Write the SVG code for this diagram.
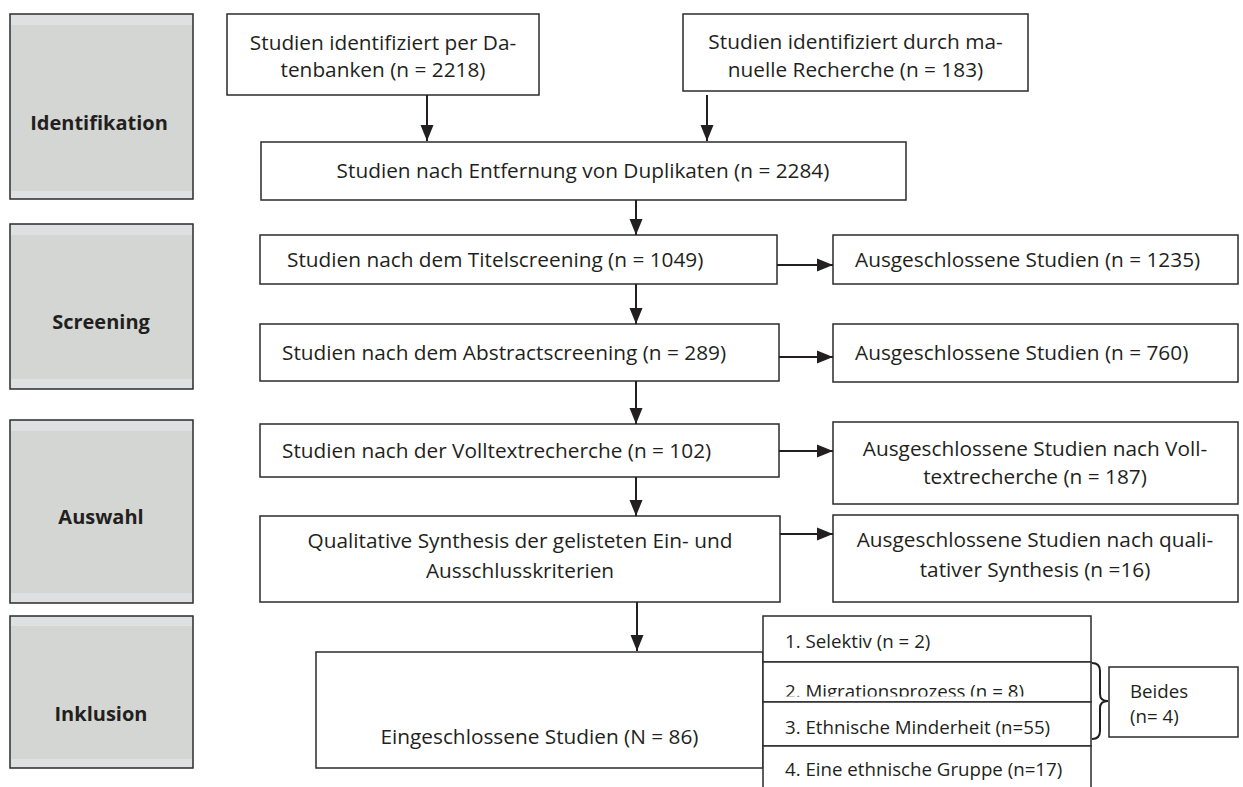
<svg xmlns="http://www.w3.org/2000/svg" width="1243" height="787" viewBox="0 0 1243 787">
<style>
  .stage-out { fill: #dfe0e2; stroke: #2b2b2b; stroke-width: 1.5; }
  .stage-in { fill: #d4d6d3; stroke: none; }
  .stage-txt { font-family: "Open Sans", "Noto Sans", sans-serif; font-weight: bold; font-size: 20px; fill: #231f20; text-anchor: middle; }
  .box { fill: #ffffff; stroke: #2b2b2b; stroke-width: 1.5; }
  .t { font-family: "Open Sans", "Noto Sans", sans-serif; font-size: 20.8px; fill: #231f20; }
  .s { font-family: "Open Sans", "Noto Sans", sans-serif; font-size: 18.7px; fill: #231f20; }
  .mid { text-anchor: middle; }
  .conn { stroke: #231f20; stroke-width: 2; fill: none; }
</style>
<defs>
  <marker id="arr" markerUnits="userSpaceOnUse" markerWidth="17" markerHeight="15" refX="16" refY="7.5" orient="auto">
    <path d="M0,1 L16,7.5 L0,14 Z" fill="#231f20"/>
  </marker>
  <clipPath id="clip2"><rect x="763" y="662" width="330" height="34.5"/></clipPath>
  <clipPath id="clip4"><rect x="763" y="746" width="330" height="36"/></clipPath>
</defs>

<g id="stage-identifikation">
  <rect class="stage-out" x="10" y="14" width="183" height="185"/>
  <rect class="stage-in" x="11" y="25" width="181" height="166"/>
  <text class="stage-txt" x="99" y="130">Identifikation</text>
</g>
<g id="stage-screening">
  <rect class="stage-out" x="10" y="224" width="183" height="165"/>
  <rect class="stage-in" x="11" y="235" width="181" height="144"/>
  <text class="stage-txt" x="101" y="329">Screening</text>
</g>
<g id="stage-auswahl">
  <rect class="stage-out" x="10" y="420" width="183" height="183"/>
  <rect class="stage-in" x="11" y="431" width="181" height="162"/>
  <text class="stage-txt" x="101" y="524">Auswahl</text>
</g>
<g id="stage-inklusion">
  <rect class="stage-out" x="10" y="616" width="183" height="152"/>
  <rect class="stage-in" x="11" y="626" width="181" height="133"/>
  <text class="stage-txt" x="101" y="721">Inklusion</text>
</g>

<g id="box-datenbanken">
  <rect class="box" x="227" y="14" width="312" height="81"/>
  <text class="t mid" x="383" y="50">Studien identifiziert per Da-</text>
  <text class="t mid" x="383" y="77">tenbanken (n = 2218)</text>
</g>
<g id="box-manuell">
  <rect class="box" x="683" y="14" width="345" height="77"/>
  <text class="t mid" x="855.5" y="49">Studien identifiziert durch ma-</text>
  <text class="t mid" x="855.5" y="77">nuelle Recherche (n = 183)</text>
</g>
<g id="box-duplikate">
  <rect class="box" x="261" y="142" width="645" height="58"/>
  <text class="t mid" x="583" y="178">Studien nach Entfernung von Duplikaten (n = 2284)</text>
</g>
<g id="box-titel">
  <rect class="box" x="260" y="235" width="517" height="49"/>
  <text class="t" x="287" y="267">Studien nach dem Titelscreening (n = 1049)</text>
</g>
<g id="box-abstract">
  <rect class="box" x="260" y="324" width="519" height="57"/>
  <text class="t" x="282" y="360">Studien nach dem Abstractscreening (n = 289)</text>
</g>
<g id="box-volltext">
  <rect class="box" x="260" y="424" width="519" height="53"/>
  <text class="t" x="282" y="458">Studien nach der Volltextrecherche (n = 102)</text>
</g>
<g id="box-qualitativ">
  <rect class="box" x="260" y="516" width="520" height="86"/>
  <text class="t mid" x="520" y="548">Qualitative Synthesis der gelisteten Ein- und</text>
  <text class="t mid" x="520" y="578">Ausschlusskriterien</text>
</g>
<g id="box-aus-1235">
  <rect class="box" x="833" y="235" width="405" height="49"/>
  <text class="t" x="855" y="267">Ausgeschlossene Studien (n = 1235)</text>
</g>
<g id="box-aus-760">
  <rect class="box" x="833" y="324" width="405" height="58"/>
  <text class="t" x="855" y="360">Ausgeschlossene Studien (n = 760)</text>
</g>
<g id="box-aus-187">
  <rect class="box" x="833" y="422" width="405" height="82"/>
  <text class="t mid" x="1035" y="456">Ausgeschlossene Studien nach Voll-</text>
  <text class="t mid" x="1035" y="484">textrecherche (n = 187)</text>
</g>
<g id="box-aus-16">
  <rect class="box" x="833" y="515" width="405" height="87"/>
  <text class="t mid" x="1035" y="547">Ausgeschlossene Studien nach quali-</text>
  <text class="t mid" x="1035" y="577">tativer Synthesis (n =16)</text>
</g>
<g id="box-eingeschlossen">
  <rect class="box" x="316" y="652" width="447" height="116"/>
  <text class="t mid" x="539.5" y="744">Eingeschlossene Studien (N = 86)</text>
</g>
<g id="sub-1">
  <rect class="box" x="763" y="616" width="328" height="46"/>
  <text class="s" x="785" y="648">1. Selektiv (n = 2)</text>
</g>
<g id="sub-2">
  <rect class="box" x="763" y="662" width="328" height="40"/>
  <text class="s" x="785" y="697.5" clip-path="url(#clip2)">2. Migrationsprozess (n = 8)</text>
</g>
<g id="sub-3">
  <rect class="box" x="763" y="702" width="328" height="44"/>
  <text class="s" x="785" y="734">3. Ethnische Minderheit (n=55)</text>
</g>
<g id="sub-4">
  <rect class="box" x="763" y="746" width="328" height="60"/>
  <text class="s" x="785" y="776" clip-path="url(#clip4)">4. Eine ethnische Gruppe (n=17)</text>
</g>
<g id="box-beides">
  <rect class="box" x="1109" y="667" width="129" height="70"/>
  <text class="s" x="1130" y="698">Beides</text>
  <text class="s" x="1130" y="723">(n= 4)</text>
</g>

<g id="connectors">
  <line class="conn" x1="427" y1="95" x2="427" y2="141" marker-end="url(#arr)"/>
  <line class="conn" x1="707" y1="95" x2="707" y2="141" marker-end="url(#arr)"/>
  <line class="conn" x1="636" y1="200" x2="636" y2="235" marker-end="url(#arr)"/>
  <line class="conn" x1="636" y1="284" x2="636" y2="324" marker-end="url(#arr)"/>
  <line class="conn" x1="636" y1="381" x2="636" y2="424" marker-end="url(#arr)"/>
  <line class="conn" x1="636" y1="477" x2="636" y2="516" marker-end="url(#arr)"/>
  <line class="conn" x1="637" y1="602" x2="637" y2="651" marker-end="url(#arr)"/>
  <line class="conn" x1="777" y1="265" x2="833" y2="265" marker-end="url(#arr)"/>
  <line class="conn" x1="779" y1="357" x2="833" y2="357" marker-end="url(#arr)"/>
  <line class="conn" x1="779" y1="451" x2="833" y2="451" marker-end="url(#arr)"/>
  <line class="conn" x1="780" y1="534" x2="833" y2="534" marker-end="url(#arr)"/>
  <path class="conn" stroke-width="1.5" d="M1092,663 Q1100,663 1100,671 L1100,694 Q1100,701 1108,701 Q1100,701 1100,708 L1100,731 Q1100,739 1092,739"/>
</g>
</svg>
